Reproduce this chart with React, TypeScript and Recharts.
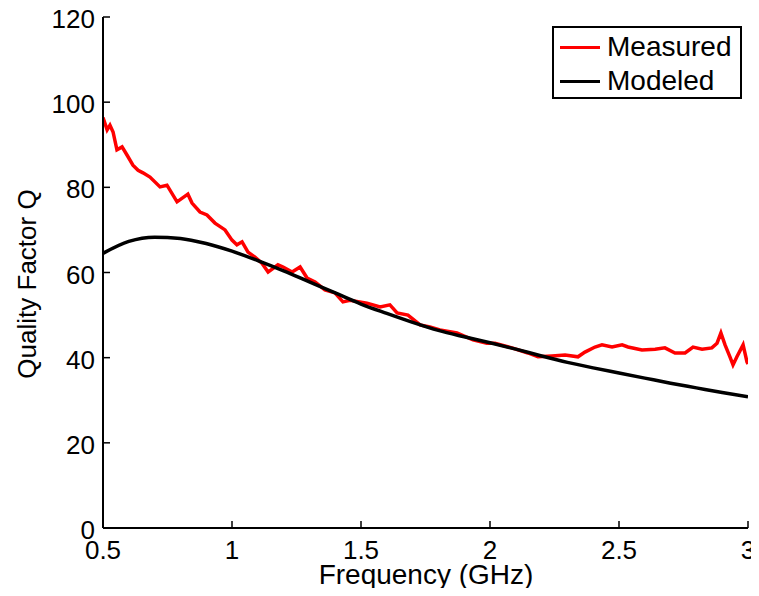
import React from 'react';
import { LineChart, Line, XAxis, YAxis, Legend } from 'recharts';

// Measured Q (red)
const measuredFreq = [
  0.5, 0.516, 0.527, 0.539, 0.554, 0.574, 0.593, 0.616, 0.636, 0.655, 0.682, 0.721, 0.748, 0.787,
  0.829, 0.845, 0.876, 0.903, 0.934, 0.973, 1.0, 1.019, 1.039, 1.062, 1.089, 1.116, 1.14, 1.178,
  1.198, 1.233, 1.264, 1.291, 1.322, 1.36, 1.399, 1.43, 1.457, 1.523, 1.574, 1.612, 1.64, 1.682,
  1.729, 1.767, 1.806, 1.872, 1.934, 1.988, 2.019, 2.085, 2.147, 2.186, 2.24, 2.291, 2.341, 2.368,
  2.407, 2.434, 2.473, 2.512, 2.535, 2.589, 2.64, 2.678, 2.717, 2.756, 2.787, 2.822, 2.86, 2.88,
  2.895, 2.911, 2.93, 2.942, 2.957, 2.981, 2.996, 3.0,
];
const measuredQ = [
  96.4, 93.5, 94.6, 93, 88.8, 89.5, 87.6, 85.2, 84, 83.4, 82.4, 80.1, 80.5, 76.6,
  78.4, 76.3, 74.2, 73.5, 71.6, 70, 67.6, 66.5, 67.2, 64.8, 63.6, 62.2, 60.1, 61.8,
  61.3, 60.1, 61.3, 58.7, 57.8, 55.9, 55.2, 53.1, 53.5, 52.8, 51.9, 52.4, 50.5, 50,
  47.7, 47.2, 46.5, 45.8, 44.2, 43.4, 43.4, 42.3, 41.1, 40.2, 40.4, 40.6, 40.2, 41.3,
  42.5, 43, 42.5, 43, 42.5, 41.8, 42, 42.3, 41.1, 41.1, 42.5, 42, 42.3, 43.4,
  45.8, 43, 40.2, 38.3, 40.2, 43, 39, 38.5,
];

// Modeled Q (black)
const modeledFreq = [
  0.5, 0.6, 0.7, 0.8, 0.9, 1.0, 1.1, 1.2, 1.3, 1.4, 1.5, 1.6, 1.7,
  1.8, 1.9, 2.0, 2.1, 2.2, 2.3, 2.4, 2.5, 2.6, 2.7, 2.8, 2.9, 3.0,
];
const modeledQ = [
  64.5, 67.3, 68.3, 68.0, 66.8, 65.0, 62.8, 60.4, 57.8, 55.2, 52.6, 50.4, 48.3,
  46.4, 44.9, 43.5, 42.0, 40.4, 38.9, 37.6, 36.4, 35.2, 34.0, 32.9, 31.8, 30.8,
];

const xTicks = [0.5, 1, 1.5, 2, 2.5, 3];
const yTicks = [0, 20, 40, 60, 80, 100, 120];

const measured = measuredFreq.map((f, i) => ({ f, q: measuredQ[i] }));
const modeled = modeledFreq.map((f, i) => ({ f, q: modeledQ[i] }));

const FONT = '"Liberation Sans", Arial, Helvetica, sans-serif';
const TICK_LEN = 7;

const BottomTick = (props: any) => {
  const { x, y, payload } = props;
  return (
    <g>
      <line x1={x} y1={y} x2={x} y2={y - TICK_LEN} stroke="#000" strokeWidth={1.5} />
      <text x={x} y={y + 22} textAnchor="middle" dominantBaseline="central" fontSize={26} fontFamily={FONT} fill="#000">
        {payload.value}
      </text>
    </g>
  );
};

const LeftTick = (props: any) => {
  const { x, y, payload } = props;
  return (
    <g>
      <line x1={x} y1={y} x2={x + TICK_LEN} y2={y} stroke="#000" strokeWidth={1.5} />
      <text x={x - 8} y={y + 2} textAnchor="end" dominantBaseline="central" fontSize={26} fontFamily={FONT} fill="#000">
        {payload.value}
      </text>
    </g>
  );
};

const TopTick = (props: any) => {
  const { x, y } = props;
  return <line x1={x} y1={y} x2={x} y2={y + TICK_LEN} stroke="#000" strokeWidth={1.5} />;
};

const RightTick = (props: any) => {
  const { x, y } = props;
  return <line x1={x} y1={y} x2={x - TICK_LEN} y2={y} stroke="#000" strokeWidth={1.5} />;
};

const YLabel = () => (
  <text
    x={0}
    y={0}
    transform="translate(27, 284) rotate(-90)"
    textAnchor="middle"
    dominantBaseline="central"
    fontSize={26}
    fontFamily={FONT}
    fill="#000"
  >
    Quality Factor Q
  </text>
);

const XLabel = () => (
  <text x={426} y={584} textAnchor="middle" fontSize={28} fontFamily={FONT} fill="#000">
    Frequency (GHz)
  </text>
);

const LegendBox = () => (
  <div
    style={{
      position: 'relative',
      width: 190,
      height: 73,
      boxSizing: 'border-box',
      border: '2px solid #000',
      background: '#fff',
      fontFamily: FONT,
      fontSize: 28,
      color: '#000',
    }}
  >
    {[
      { name: 'Measured', color: '#ff0000', top: 4 },
      { name: 'Modeled', color: '#000000', top: 38 },
    ].map((item) => (
      <div key={item.name} style={{ position: 'absolute', left: 6, top: item.top, height: 30, display: 'flex', alignItems: 'center' }}>
        <div style={{ width: 40, height: 3, background: item.color, marginRight: 7 }} />
        <span style={{ lineHeight: '30px' }}>{item.name}</span>
      </div>
    ))}
  </div>
);

export default function App() {
  // pull the chart over the body margin so it fills the whole 759x596 page
  return (
    <div style={{ width: 759, height: 596, margin: '-8px 0 -8px -8px' }}>
      <LineChart width={759} height={596} margin={{ top: 17, right: 11, bottom: 0, left: 0 }}>
        <XAxis
          type="number"
          dataKey="f"
          domain={[0.5, 3]}
          ticks={xTicks}
          height={68}
          tickSize={0}
          tickMargin={0}
          tickLine={false}
          tick={<BottomTick />}
          axisLine={{ stroke: '#000', strokeWidth: 2 }}
          label={<XLabel />}
          allowDataOverflow
        />
        <XAxis
          xAxisId="top"
          orientation="top"
          type="number"
          domain={[0.5, 3]}
          ticks={xTicks}
          height={0}
          tickSize={0}
          tickMargin={0}
          tickLine={false}
          tick={<TopTick />}
          axisLine={{ stroke: '#000', strokeWidth: 2 }}
          allowDataOverflow
        />
        <YAxis
          type="number"
          domain={[0, 120]}
          ticks={yTicks}
          width={103}
          tickSize={0}
          tickMargin={0}
          tickLine={false}
          tick={<LeftTick />}
          axisLine={{ stroke: '#000', strokeWidth: 2 }}
          label={<YLabel />}
          allowDataOverflow
        />
        <YAxis
          yAxisId="right"
          orientation="right"
          type="number"
          domain={[0, 120]}
          ticks={yTicks}
          width={0}
          tickSize={0}
          tickMargin={0}
          tickLine={false}
          tick={<RightTick />}
          axisLine={{ stroke: '#000', strokeWidth: 2 }}
          allowDataOverflow
        />
        <Legend
          layout="horizontal"
          verticalAlign="middle"
          align="center"
          wrapperStyle={{ position: 'absolute', top: 26, left: 552, width: 190, height: 73 }}
          content={() => <LegendBox />}
        />
        <Line
          data={measured}
          dataKey="q"
          name="Measured"
          type="linear"
          stroke="#ff0000"
          strokeWidth={3.5}
          dot={false}
          activeDot={false}
          isAnimationActive={false}
        />
        <Line
          data={modeled}
          dataKey="q"
          name="Modeled"
          type="monotone"
          stroke="#000000"
          strokeWidth={3.5}
          dot={false}
          activeDot={false}
          isAnimationActive={false}
        />
      </LineChart>
    </div>
  );
}
